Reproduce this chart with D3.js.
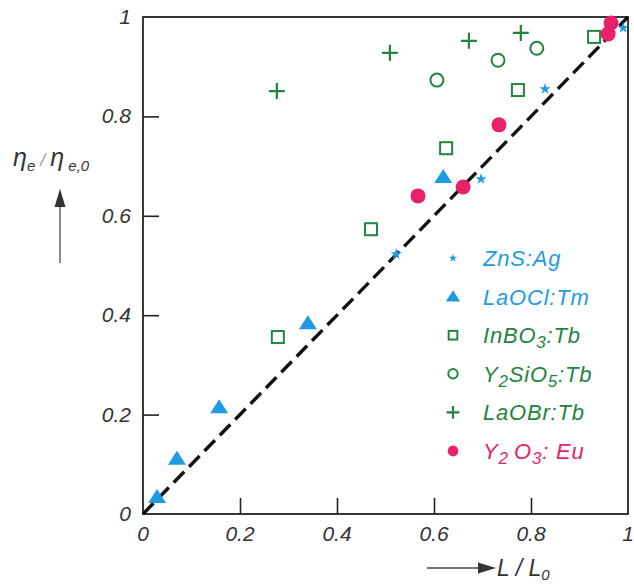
<!DOCTYPE html>
<html>
<head>
<meta charset="utf-8">
<script src="https://cdn.jsdelivr.net/npm/d3@7"></script>
<style>
  body { margin: 0; background: #fff; }
  svg { font-family: "Liberation Sans", Arial, sans-serif; }
</style>
</head>
<body>
<div id="chart"></div>
<script>
// data: [L/L0, eta_e/eta_e0]
const znsAg = [[0.522, 0.523], [0.697, 0.674], [0.829, 0.855], [0.990, 0.978]];
const laoclTm = [[0.029, 0.034], [0.070, 0.111], [0.157, 0.215], [0.340, 0.384], [0.619, 0.678]];
const inbo3Tb = [[0.278, 0.356], [0.470, 0.573], [0.625, 0.736], [0.773, 0.853], [0.930, 0.960]];
const y2sio5Tb = [[0.606, 0.873], [0.732, 0.913], [0.812, 0.937]];
const laobrTb = [[0.276, 0.851], [0.509, 0.928], [0.672, 0.952], [0.779, 0.968]];
const y2o3Eu = [[0.567, 0.640], [0.660, 0.658], [0.734, 0.783], [0.959, 0.966], [0.965, 0.988]];
const diagonal = [[0, 0], [1, 1]];

const xTicks = [0, 0.2, 0.4, 0.6, 0.8, 1];
const yTicks = [0, 0.2, 0.4, 0.6, 0.8, 1];

const blue = '#1f9be3', green = '#23843f', pink = '#e8216b';

const series = [
    { data: znsAg, mark: 'star', color: blue, label: ['ZnS:Ag'] },
    { data: laoclTm, mark: 'triangle', color: blue, label: ['LaOCl:Tm'] },
    { data: inbo3Tb, mark: 'square', color: green, label: ['InBO', ['3'], ':Tb'] },
    { data: y2sio5Tb, mark: 'circle', color: green, label: ['Y', ['2'], 'SiO', ['5'], ':Tb'] },
    { data: laobrTb, mark: 'plus', color: green, label: ['LaOBr:Tb'] },
    { data: y2o3Eu, mark: 'dot', color: pink, label: ['Y', ['2'], '\u2009O', ['3'], ': Eu'] }
];

const width = 634, height = 584;
const margin = { left: 143, right: 6, top: 17, bottom: 70 };

const svg = d3.select('#chart').append('svg')
    .attr('width', width)
    .attr('height', height);

const x = d3.scaleLinear().domain([0, 1]).range([margin.left, width - margin.right]);
const y = d3.scaleLinear().domain([0, 1]).range([height - margin.bottom, margin.top]);

// frame
svg.append('rect')
    .attr('x', x(0)).attr('y', y(1))
    .attr('width', x(1) - x(0)).attr('height', y(0) - y(1))
    .attr('fill', 'none').attr('stroke', '#222').attr('stroke-width', 1.8);

// inward ticks
const axisX = d3.axisBottom(x).tickValues(xTicks.slice(1, -1)).tickSize(-16).tickFormat('');
const axisY = d3.axisLeft(y).tickValues(yTicks.slice(1, -1)).tickSize(-16).tickFormat('');
svg.append('g').attr('transform', `translate(0, ${y(0)})`).call(axisX)
    .call(g => g.select('.domain').remove())
    .call(g => g.selectAll('line').attr('stroke', '#222').attr('stroke-width', 1.6));
svg.append('g').attr('transform', `translate(${x(0)}, 0)`).call(axisY)
    .call(g => g.select('.domain').remove())
    .call(g => g.selectAll('line').attr('stroke', '#222').attr('stroke-width', 1.6));

// tick labels
svg.append('g').selectAll('text').data(xTicks).join('text')
    .attr('x', d => x(d)).attr('y', y(0) + 27)
    .attr('text-anchor', 'middle')
    .attr('font-size', 21).attr('font-style', 'italic').attr('fill', '#333')
    .text(d => d3.format('~g')(d));
svg.append('g').selectAll('text').data(yTicks).join('text')
    .attr('x', x(0) - 12).attr('y', d => y(d) + 7)
    .attr('text-anchor', 'end')
    .attr('font-size', 21).attr('font-style', 'italic').attr('fill', '#333')
    .text(d => d3.format('~g')(d));

// dashed diagonal
const line = d3.line().x(d => x(d[0])).y(d => y(d[1]));
svg.append('path')
    .datum(diagonal)
    .attr('d', line)
    .attr('fill', 'none').attr('stroke', '#111')
    .attr('stroke-width', 3.4).attr('stroke-dasharray', '15,7');

function drawMark (g, mark, color, s) {
    if (mark === 'star') {
        g.append('path').attr('d', d3.symbol(d3.symbolStar, 40 * s * s)()).attr('fill', color);
    } else if (mark === 'triangle') {
        g.append('path').attr('d', `M0,${-8 * s}L${9 * s},${6 * s}L${-9 * s},${6 * s}Z`).attr('fill', color);
    } else if (mark === 'square') {
        g.append('rect').attr('x', -6 * s).attr('y', -6 * s).attr('width', 12 * s).attr('height', 12 * s)
            .attr('fill', 'none').attr('stroke', color).attr('stroke-width', 2);
    } else if (mark === 'circle') {
        g.append('circle').attr('r', 6.5 * s).attr('fill', 'none').attr('stroke', color).attr('stroke-width', 2);
    } else if (mark === 'plus') {
        g.append('path').attr('d', `M${-8 * s},0H${8 * s}M0,${-8 * s}V${8 * s}`)
            .attr('stroke', color).attr('stroke-width', 2.2);
    } else if (mark === 'dot') {
        g.append('circle').attr('r', 7.5 * s).attr('fill', color);
    }
}

// points
series.forEach(s => {
    svg.append('g').selectAll('g').data(s.data).join('g')
        .attr('transform', d => `translate(${x(d[0])}, ${y(d[1])})`)
        .each(function () { drawMark(d3.select(this), s.mark, s.color, 1); });
});

// legend
const legend = svg.append('g').attr('transform', 'translate(453, 258)');
series.forEach((s, i) => {
    const row = legend.append('g').attr('transform', `translate(0, ${i * 38.6})`);
    const scale = s.mark === 'triangle' || s.mark === 'plus' ? 0.8 : 0.72;
    drawMark(row, s.mark, s.color, scale);
    const t = row.append('text').attr('x', 30).attr('y', 8)
        .attr('font-size', 22).attr('letter-spacing', 0.8)
        .attr('font-style', 'italic').attr('fill', s.color);
    let lowered = false;
    s.label.forEach(part => {
        if (Array.isArray(part)) {
            t.append('tspan').attr('font-size', 17).attr('dy', 5).text(part[0]);
            lowered = true;
        } else {
            t.append('tspan').attr('dy', lowered ? -5 : 0).text(part);
            lowered = false;
        }
    });
});

// y title with arrow
const yt = svg.append('text').attr('x', 13).attr('y', 166)
    .attr('font-size', 25).attr('font-style', 'italic').attr('fill', '#333');
yt.append('tspan').text('\u03B7');
yt.append('tspan').attr('font-size', 15).attr('dy', 5).text('e');
yt.append('tspan').attr('dy', -5).attr('font-size', 18).attr('fill', '#999').text(' / ');
yt.append('tspan').text('\u03B7');
yt.append('tspan').attr('font-size', 15).attr('dy', 5).text(' e,0');

svg.append('line').attr('x1', 60).attr('x2', 60).attr('y1', 263).attr('y2', 200)
    .attr('stroke', '#666').attr('stroke-width', 1.5);
svg.append('path').attr('d', 'M60,189L54.5,207L65.5,207Z').attr('fill', '#333');

// x title with arrow
svg.append('line').attr('x1', 427).attr('x2', 482).attr('y1', 568).attr('y2', 568)
    .attr('stroke', '#444').attr('stroke-width', 1.5);
svg.append('path').attr('d', 'M496,568L478,562.5L478,573.5Z').attr('fill', '#333');
const xt = svg.append('text').attr('x', 497).attr('y', 576)
    .attr('font-size', 23).attr('font-style', 'italic').attr('fill', '#333');
xt.append('tspan').text('L / L');
xt.append('tspan').attr('font-size', 15).attr('dy', 4).text('0');
</script>
</body>
</html>
